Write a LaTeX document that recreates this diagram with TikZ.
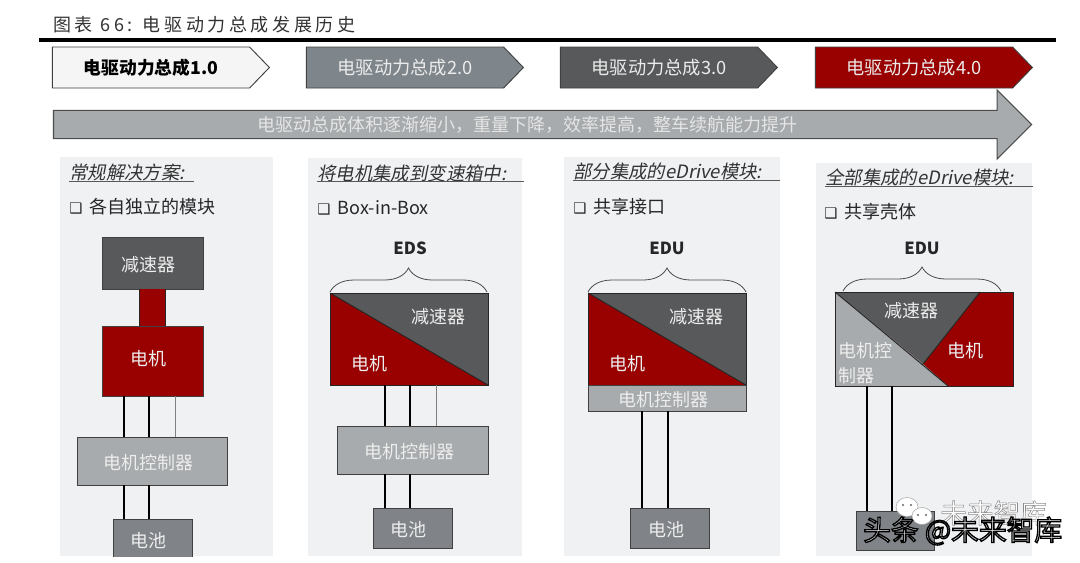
\documentclass[tikz,border=0pt]{standalone}
\usepackage{fontspec}
\setmainfont{Noto Sans CJK SC}
\newfontfamily\titlefont[LetterSpace=20]{Noto Sans CJK SC}
\newfontfamily\slantfont[FakeSlant=0.2]{Noto Sans CJK SC}
\newfontfamily\symfont{DejaVu Sans}
\usetikzlibrary{positioning, calc, shapes.symbols, shapes.arrows, decorations.pathreplacing}
\definecolor{panelc}{HTML}{EFF1F3}
\definecolor{redc}{HTML}{990000}
\definecolor{darkc}{HTML}{58595B}
\definecolor{greyc}{HTML}{A7ABAD}
\definecolor{battc}{HTML}{808488}
\definecolor{stepc}{HTML}{7F868B}
\newcommand{\fsz}[1]{\fontsize{#1}{#1}\selectfont}
\newcommand{\tick}{{\symfont\fsz{11pt}❑}}
\newcommand{\qcomma}{\symbol{"FF0C}}
\newcommand{\outlined}[3]{\special{pdf:code q 2 Tr #1 w #2 RG}#3\special{pdf:code Q}}

\begin{document}
\begin{tikzpicture}[
  x=0.75pt, y=-0.75pt,
  font=\fsz{13.5pt},
  panel/.style={fill=panelc, draw=none, minimum width=#1*0.75pt, anchor=north west, inner sep=0pt},
  chev/.style={signal, signal to=east, signal pointer angle=92, draw=black!75, line width=0.7pt,
               fill=#1, minimum width=217*0.75pt, minimum height=41*0.75pt, inner sep=0pt,
               font=\fsz{13.7pt}, text=white!92!black},
  blk/.style 2 args={draw=black!75, line width=0.75pt, minimum width=#1*0.75pt,
               minimum height=#2*0.75pt, inner sep=0pt, outer sep=0pt},
  lab/.style={text=white!93!black, inner sep=0pt, yshift=-0.75pt},
  head/.style={anchor=west, inner sep=0pt, font=\fsz{13.8pt}\slantfont, text=black!80},
  hrule/.style={draw=black!65, line width=0.7pt},
  item/.style={anchor=west, inner sep=0pt, text=black!85},
  wire/.style={draw=black, line width=1.1pt},
  thinwire/.style={draw=black!50, line width=0.7pt},
  diag/.style={draw=black!85, line width=0.7pt},
  brc/.style={draw=black!70, line width=0.6pt, decorate,
              decoration={brace, amplitude=18pt}},
  grp/.style={inner sep=0pt, font=\fsz{12.5pt}\bfseries, text=black!85}
]
\useasboundingbox (0,0) rectangle (1080,562);
\fill[white] (0,0) rectangle (1080,562);

% title and rule
\node[anchor=west, inner sep=0pt, font=\fsz{13.5pt}\titlefont, text=black!80] (title) at (53,25) {图表 66: 电驱动力总成发展历史};
\coordinate (ruleL) at (39,40);
\coordinate (ruleR) at (1056,40);
\draw[line width=2.3pt] (ruleL) -- (ruleR);

% steps
\node[chev=white!96!black, text=black, font=\fsz{13.3pt}\bfseries] (s1) at (151,67.5) {\raisebox{-0.8pt}{电驱动力总成1.0}};
\node[chev=stepc]  (s2) at (405,67.5) {\raisebox{-0.8pt}{电驱动力总成2.0}};
\node[chev=darkc]  (s3) at (659,67.5) {\raisebox{-0.8pt}{电驱动力总成3.0}};
\node[chev=redc]   (s4) at (914,67.5) {\raisebox{-0.8pt}{电驱动力总成4.0}};

\node[single arrow, draw=black!70, line width=0.8pt, fill=greyc, inner sep=0pt,
      minimum width=69*0.75pt, minimum height=978*0.75pt,
      single arrow head extend=10pt, single arrow head indent=0pt,
      text=white!90!black] (trend) at (535.5,124.5) {\hspace*{-12pt}\raisebox{-1pt}{电驱动总成体积逐渐缩小\qcomma 重量下降\qcomma 效率提高\qcomma 整车续航能力提升}};

% panels
\node[panel=213, minimum height=399*0.75pt] (p1) at (60,157) {};
\node[panel=214, minimum height=398*0.75pt] (p2) at (308,158) {};
\node[panel=216, minimum height=399*0.75pt] (p3) at (564,157) {};
\node[panel=216, minimum height=393*0.75pt] (p4) at (816,163) {};

\node[head] (h1) at (69,172) {常规解决方案:};
\node[head] (h2) at (317,173) {将电机集成到变速箱中:};
\node[head] (h3) at (573,172) {部分集成的eDrive模块:};
\node[head] (h4) at (825,177) {全部集成的eDrive模块:};
\draw[hrule] (h1.west |- 0,181) -- (194,181);
\draw[hrule] (h2.west |- 0,181.5) -- (524,181.5);
\draw[hrule] (h3.west |- 0,180.5) -- (780,180.5);
\draw[hrule] (h4.west |- 0,186) -- (1033,186);

\node[item] (i1) at (69,207) {\tick\hspace{5.5pt}各自独立的模块};
\node[item] (i2) at (317,208) {\tick\hspace{5.5pt}Box-in-Box};
\node[item] (i3) at (573,207) {\tick\hspace{5.5pt}共享接口};
\node[item] (i4) at (824,212) {\tick\hspace{5.5pt}共享壳体};

\node[grp] (g2) at (410,248) {EDS};
\node[grp] (g3) at (667,248) {EDU};
\node[grp] (g4) at (922,248) {EDU};

% column 1
\node[blk={101}{52}, fill=darkc] (r1) at (152.5,263) {};
\node[blk={26}{37}, fill=redc, draw=none, below=0pt of r1] (n1) {};
\node[blk={101}{70}, fill=redc, below=0pt of n1] (m1) {};
\node[blk={150}{48}, fill=greyc, below=30.75pt of m1] (c1) {};
\node[blk={79}{40}, fill=battc, below=25.5pt of c1] (b1) {};
\draw[diag] (n1.north west) -- (n1.south west) (n1.north east) -- (n1.south east);
\foreach \x in {124,149}{
  \draw[wire] (\x,0 |- m1.south) -- (\x,0 |- c1.north);
  \draw[wire] (\x,0 |- c1.south) -- (\x,0 |- b1.north);}
\draw[thinwire] (175,0 |- m1.south) -- (175,0 |- c1.north);
\node[lab] (r1t) at (148,264) {减速器};
\node[lab] (m1t) at (148,358) {电机};
\node[lab] (c1t) at (148,462) {电机控制器};
\node[lab] (b1t) at (148,540) {电池};

% column 2
\node[blk={158}{92}, fill=darkc] (r2) at (409,339) {};
\fill[redc] (r2.north west) -- (r2.south west) -- (r2.south east) -- cycle;
\draw[diag] (r2.north west) -- (r2.south east);
\draw[diag] (r2.north west) rectangle (r2.south east);
\node[blk={151}{48}, fill=greyc, below=30.75pt of r2, xshift=3pt] (c2) {};
\node[blk={79}{40}, fill=battc, below=25.5pt of c2] (b2) {};
\foreach \x in {385,410}{
  \draw[wire] (\x,0 |- r2.south) -- (\x,0 |- c2.north);
  \draw[wire] (\x,0 |- c2.south) -- (\x,0 |- b2.north);}
\draw[thinwire] (436,0 |- r2.south) -- (436,0 |- c2.north);
\draw[brc] ($(r2.north west)+(0,-1)$) -- ($(r2.north east)+(-1,-1)$);
\node[lab] (r2t) at (438,316) {减速器};
\node[lab] (m2t) at (369,363) {电机};
\node[lab] (c2t) at (409,451) {电机控制器};
\node[lab] (b2t) at (408,529) {电池};

% column 3
\node[blk={158}{92}, fill=darkc] (r3) at (667,339) {};
\fill[redc] (r3.north west) -- (r3.south west) -- (r3.south east) -- cycle;
\draw[diag] (r3.north west) -- (r3.south east);
\draw[diag] (r3.north west) rectangle (r3.south east);
\node[blk={158}{26}, fill=greyc, below=0pt of r3] (c3) {};
\node[blk={79}{40}, fill=battc, below=72.75pt of c3, xshift=2.6pt] (b3) {};
\foreach \x in {642,668}{
  \draw[wire] (\x,0 |- c3.south) -- (\x,0 |- b3.north);}
\draw[brc] ($(r3.north west)+(0,-1)$) -- ($(r3.north east)+(0,-1)$);
\node[lab] (r3t) at (696,316) {减速器};
\node[lab] (m3t) at (627,363) {电机};
\node[lab] (c3t) at (663,399) {电机控制器};
\node[lab] (b3t) at (666,529) {电池};

% column 4
\node[blk={178}{94}, fill=redc] (r4) at (924,339) {};
\coordinate (q4) at (980,292);
\coordinate (k4) at (923,364);
\coordinate (e4) at (948,386);
\fill[darkc] (r4.north west) -- (q4) -- (k4) -- cycle;
\fill[greyc] (r4.north west) -- (k4) -- (e4) -- (r4.south west) -- cycle;
\draw[diag] (r4.north west) -- (e4) (q4) -- (k4);
\draw[diag] (r4.north west) rectangle (r4.south east);
\node[blk={78}{39}, fill=battc, anchor=north] (b4) at (895,511) {};
\foreach \x in {867,892}{
  \draw[wire] (\x,0 |- r4.south) -- (\x,0 |- b4.north);}
\coordinate (bl4) at (843,291);
\coordinate (br4) at (1001,291);
\draw[brc] (bl4) -- (br4);
\node[lab] (r4t) at (911,310) {减速器};
\node[lab] (m4t) at (965,350) {电机};
\node[lab, align=left, anchor=west, font=\fsz{13.5pt}] (c4t) at (838,362) {电机控\\[5pt]制器};

% trim at the foot of the panels
\fill[white] (40,556.5) rectangle (1080,562);

% watermark
\fill[white, draw=black!35, line width=0.4pt] (907,507) ellipse (11 and 9.5);
\fill[white, draw=black!35, line width=0.4pt] (922,516) ellipse (10 and 8.5);
\fill[black!60] (903,505) circle (1.2) (911,505) circle (1.2) (918,515) circle (1.1) (926,515) circle (1.1);
\node[anchor=west, inner sep=0pt, font=\fsz{20pt}, text=white] (wm1) at (940,513) {\outlined{0.4}{0.55 0.55 0.55}{未来智库}};
\node[anchor=west, inner sep=0pt, font=\fsz{20.8pt}, text=white] (wm2) at (863,531) {\outlined{1.0}{0 0 0}{头条 @未来智库}};
\end{tikzpicture}
\end{document}
